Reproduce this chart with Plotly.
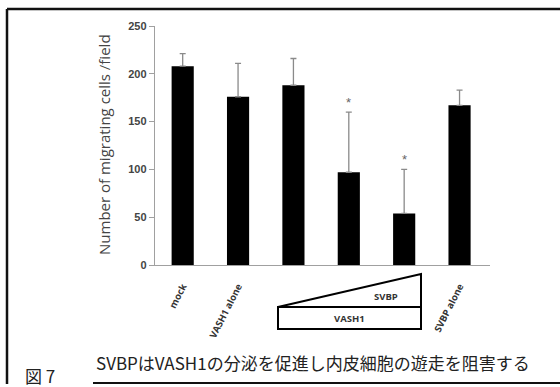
import plotly.graph_objects as go

categories = ["mock", "VASH1 alone", "c3", "c4", "c5", "SVBP alone"]
tick_labels = ["mock", "VASH1 alone", "", "", "", "SVBP alone"]
values = [208, 176, 188, 97, 54, 167]
errors = [13, 35, 28, 63, 46, 16]
significant = [False, False, False, True, True, False]
y_ticks = [0, 50, 100, 150, 200, 250]
caption = "SVBPはVASH1の分泌を促進し内皮細胞の遊走を阻害する"
fig_label = "図 7"

W, H = 560, 387
L, R, T, B = 155, 490, 26, 265


def px(x):
    return (x - L) / (R - L)


def py(y):
    return (B - y) / (B - T)


fig = go.Figure()
fig.add_trace(go.Bar(
    x=list(range(len(categories))), y=values, width=0.4,
    marker=dict(color="black", line=dict(width=0)),
    error_y=dict(type="data", array=errors, arrayminus=[0] * len(errors),
                 symmetric=False, color="#8a8a8a", thickness=1.3, width=3),
    showlegend=False, hoverinfo="skip",
))

ann = []
for i, (v, e, s) in enumerate(zip(values, errors, significant)):
    if s:
        ann.append(dict(x=i, y=v + e, xref="x", yref="y", text="*", showarrow=False,
                        xanchor="center", yanchor="bottom", yshift=0,
                        font=dict(family="Liberation Sans", size=13, color="#666")))

ann.append(dict(x=px(104), y=py(145), xref="paper", yref="paper",
                xanchor="center", yanchor="middle",
                text="Number of migrating cells /field", textangle=-90, showarrow=False,
                font=dict(family="Open Sans", size=15, color="#444")))
ann.append(dict(x=px(386), y=py(296), xref="paper", yref="paper", text="<b>SVBP</b>",
                xanchor="center", yanchor="middle",
                showarrow=False, font=dict(family="Open Sans", size=9.5, color="#333")))
ann.append(dict(x=px(349), y=py(318), xref="paper", yref="paper", text="<b>VASH1</b>",
                xanchor="center", yanchor="middle",
                showarrow=False, font=dict(family="Open Sans", size=9.5, color="#333")))
ann.append(dict(x=px(94), y=py(362), xref="paper", yref="paper", text=caption,
                xanchor="left", yanchor="middle", showarrow=False,
                font=dict(family="Noto Sans CJK JP", size=17, color="#222")))
ann.append(dict(x=px(23), y=py(390), xref="paper", yref="paper", text=fig_label,
                xanchor="left", yanchor="bottom", showarrow=False,
                font=dict(family="Noto Sans CJK JP", size=17, color="#222")))

shapes = [
    # frame
    dict(type="line", x0=px(7), y0=py(9), x1=px(562), y1=py(9), xref="paper", yref="paper",
         line=dict(color="#111", width=2.5)),
    dict(type="line", x0=px(7), y0=py(9), x1=px(7), y1=py(384), xref="paper", yref="paper",
         line=dict(color="#111", width=2.5)),
    dict(type="line", x0=px(93), y0=py(383), x1=px(562), y1=py(383), xref="paper", yref="paper",
         line=dict(color="#111", width=2)),
    # dose diagram
    dict(type="path", xref="paper", yref="paper",
         path=f"M {px(278)} {py(307)} L {px(421)} {py(274)} L {px(421)} {py(307)} Z",
         line=dict(color="black", width=2)),
    dict(type="rect", xref="paper", yref="paper", x0=px(278), y0=py(307), x1=px(421), y1=py(329),
         line=dict(color="black", width=2)),
]

fig.update_layout(
    width=W, height=H, margin=dict(l=L, r=W - R, t=T, b=H - B),
    paper_bgcolor="white", plot_bgcolor="white",
    annotations=ann, shapes=shapes, bargap=0.6,
    xaxis=dict(range=[-0.5, 5.55], tickmode="array", tickvals=list(range(len(categories))),
               ticktext=[f"<b>{t}</b>" if t else "" for t in tick_labels], tickangle=-63,
               showline=True, linecolor="#a0a0a0", linewidth=1.2, ticks="outside",
               ticklen=11, tickcolor="rgba(0,0,0,0)",
               tickfont=dict(family="Open Sans", size=9.5, color="#333"), showgrid=False,
               zeroline=False),
    yaxis=dict(range=[0, 250], tickvals=y_ticks, ticks="outside", ticklen=5, tickcolor="#a0a0a0",
               showline=True, linecolor="#a0a0a0", linewidth=1.2, showgrid=False, zeroline=False,
               ticktext=[f"<b>{t}</b>" for t in y_ticks], tickmode="array",
               tickfont=dict(family="Liberation Sans", size=11, color="#444")),
)

fig.write_html("out.html", config={"displayModeBar": False, "staticPlot": True},
               post_script="document.body.style.margin='0';document.body.style.overflow='hidden';")
